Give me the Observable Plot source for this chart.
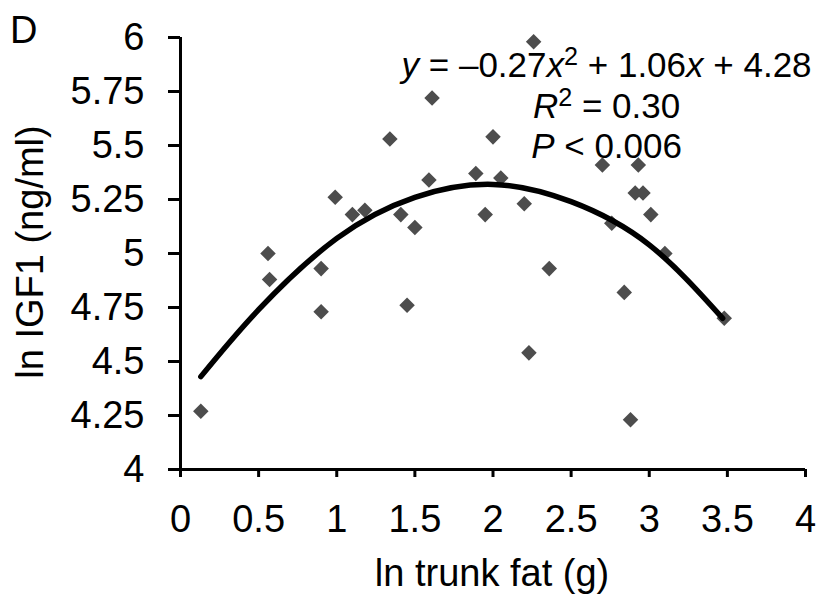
<!DOCTYPE html>
<html>
<head>
<meta charset="utf-8">
<script src="https://cdn.jsdelivr.net/npm/d3@7"></script>
<script src="https://cdn.jsdelivr.net/npm/@observablehq/plot@0.6"></script>
<style>
  html, body { margin: 0; padding: 0; background: #fff; }
  #chart svg { display: block; }
</style>
</head>
<body>
<div id="chart"></div>
<script>
// ---- Data ----
const lnTrunkFat = [0.13, 0.56, 0.57, 0.90, 0.90, 0.99, 1.10, 1.18, 1.34, 1.41, 1.45, 1.50, 1.59, 1.61,
                    1.89, 1.95, 2.00, 2.05, 2.20, 2.23, 2.26, 2.36, 2.70, 2.76, 2.84, 2.88, 2.91, 2.93,
                    2.96, 3.01, 3.10, 3.48];
const lnIGF1 = [4.27, 5.00, 4.88, 4.93, 4.73, 5.26, 5.18, 5.20, 5.53, 5.18, 4.76, 5.12, 5.34, 5.72,
                5.37, 5.18, 5.54, 5.35, 5.23, 4.54, 5.98, 4.93, 5.41, 5.14, 4.82, 4.23, 5.28, 5.41,
                5.28, 5.18, 5.00, 4.70];
// fitted quadratic curve
const fitX = [0.13, 0.5, 1.0, 1.5, 2.0, 2.5, 3.0, 3.47];
const fitY = [4.43, 4.74, 5.07, 5.26, 5.32, 5.24, 5.04, 4.70];

const xTicks = [0, 0.5, 1, 1.5, 2, 2.5, 3, 3.5, 4];
const yTicks = [4, 4.25, 4.5, 4.75, 5, 5.25, 5.5, 5.75, 6];
const panelLabel = "D";
const xLabel = "ln trunk fat (g)";
const yLabel = "ln IGF1 (ng/ml)";
const eqA = "–0.27", eqB = "1.06", eqC = "4.28";
const rSquared = "0.30";
const pValue = "0.006";

// ---- Chart ----
const font = '"Liberation Sans", Arial, Helvetica, sans-serif';
const points = lnTrunkFat.map((x, i) => ({x, y: lnIGF1[i]}));
const fit = fitX.map((x, i) => ({x, y: fitY[i]}));

const plot = Plot.plot({
  width: 821,
  height: 599,
  marginLeft: 180,
  marginRight: 16,
  marginTop: 37,
  marginBottom: 130,
  style: {fontFamily: font, background: "#fff", color: "#000"},
  x: {domain: [0, 4]},
  y: {domain: [4, 6]},
  marks: [
    Plot.axisX({ticks: xTicks, tickFormat: d => String(d), tickSize: 8, tickPadding: 28,
                fontSize: 38, strokeWidth: 3, label: null}),
    Plot.axisY({ticks: yTicks, tickFormat: d => String(d), tickSize: 12, tickPadding: 24,
                fontSize: 38, strokeWidth: 3, label: null}),
    Plot.ruleX([0], {y1: 4, y2: 6, strokeWidth: 3, stroke: "#000"}),
    Plot.ruleY([4], {x1: 0, x2: 4, strokeWidth: 3, stroke: "#000"}),
    Plot.dot(points, {x: "x", y: "y", symbol: "diamond2", r: 7, fill: "#4d4d4d", stroke: null}),
    Plot.line(fit, {x: "x", y: "y", curve: "natural", stroke: "#000", strokeWidth: 5.5})
  ]
});

document.getElementById("chart").appendChild(plot);

const svg = d3.select(plot);
const sx = plot.scale("x");

// panel letter
svg.append("text")
  .attr("x", 10).attr("y", 43)
  .attr("text-anchor", "start")
  .attr("font-size", 38).attr("font-family", font).attr("fill", "#000")
  .text(panelLabel);

// axis titles
svg.append("text")
  .attr("x", 492).attr("y", 586)
  .attr("text-anchor", "middle")
  .attr("font-size", 38).attr("font-family", font).attr("fill", "#000")
  .text(xLabel);

svg.append("text")
  .attr("transform", "translate(43,252) rotate(-90)")
  .attr("text-anchor", "middle")
  .attr("font-size", 38).attr("font-family", font).attr("fill", "#000")
  .text(yLabel);

// regression annotation
const annX = sx.apply(2.73);
const ann = svg.append("g")
  .attr("font-size", 35).attr("font-family", font).attr("fill", "#000")
  .attr("text-anchor", "middle")
  .style("white-space", "pre");

const l1 = ann.append("text").attr("x", annX).attr("y", 77);
l1.append("tspan").attr("font-style", "italic").text("y");
l1.append("tspan").text(" = " + eqA);
l1.append("tspan").attr("font-style", "italic").text("x");
l1.append("tspan").attr("font-size", "0.72em").attr("dy", -12).text("2");
l1.append("tspan").attr("dy", 12).text(" + " + eqB);
l1.append("tspan").attr("font-style", "italic").text("x");
l1.append("tspan").text(" + " + eqC);

const l2 = ann.append("text").attr("x", annX).attr("y", 118);
l2.append("tspan").attr("font-style", "italic").text("R");
l2.append("tspan").attr("font-size", "0.72em").attr("dy", -12).text("2");
l2.append("tspan").attr("dy", 12).text(" = " + rSquared);

const l3 = ann.append("text").attr("x", annX).attr("y", 158);
l3.append("tspan").attr("font-style", "italic").text("P");
l3.append("tspan").text(" < " + pValue);
</script>
</body>
</html>
